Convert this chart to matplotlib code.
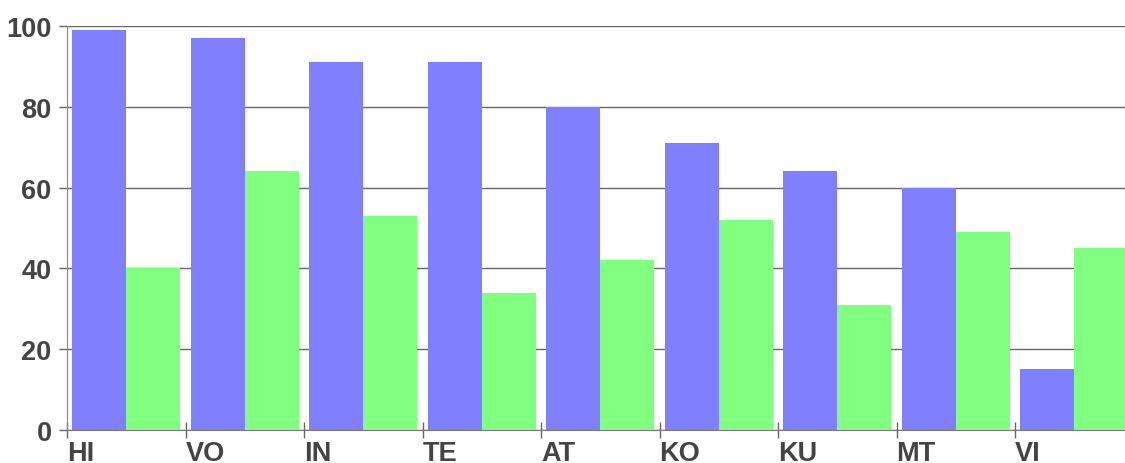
import numpy as np
import matplotlib.pyplot as plt

categorias = ["HI", "VO", "IN", "TE", "AT", "KO", "KU", "MT", "VI"]
serie_azul = [99, 97, 91, 91, 80, 71, 64, 60, 15]
serie_verde = [40, 64, 53, 34, 42, 52, 31, 49, 45]
y_ticks = [0, 20, 40, 60, 80, 100]

plt.rcParams['font.family'] = ['Liberation Sans', 'DejaVu Sans']

fig = plt.figure(figsize=(11.25, 4.64), dpi=100)
ax = fig.add_axes([67 / 1125, 33 / 464, 1 - 67 / 1125, 404 / 464])

x = np.arange(len(categorias))
largura = 0.455
ax.bar(x + 0.045, serie_azul, width=largura, align='edge', color='#8080ff', linewidth=0, zorder=3)
ax.bar(x + 0.5, serie_verde, width=largura, align='edge', color='#80ff80', linewidth=0, zorder=3)

ax.set_xlim(0, (1125 - 67) / 118.5)
ax.set_ylim(0, 100)

# grade horizontal
ax.set_yticks(y_ticks)
ax.yaxis.grid(True, color='#666666', linewidth=1, zorder=1)
ax.set_axisbelow(True)

ax.set_xticks(x)
ax.set_xticklabels(categorias, ha='left')
ax.tick_params(axis='x', direction='inout', length=12, width=1, color='#666666',
               pad=1, labelsize=19.5, labelcolor='#444444')
ax.tick_params(axis='y', direction='out', length=6, width=1, color='#666666',
               pad=5, labelsize=19.5, labelcolor='#444444')
for lbl in ax.get_xticklabels() + ax.get_yticklabels():
    lbl.set_fontweight('bold')

for lado in ['top', 'right']:
    ax.spines[lado].set_visible(False)
ax.spines['left'].set_color('#888888')
ax.spines['bottom'].set_color('#777777')

fig.savefig("out.png", dpi=100)
